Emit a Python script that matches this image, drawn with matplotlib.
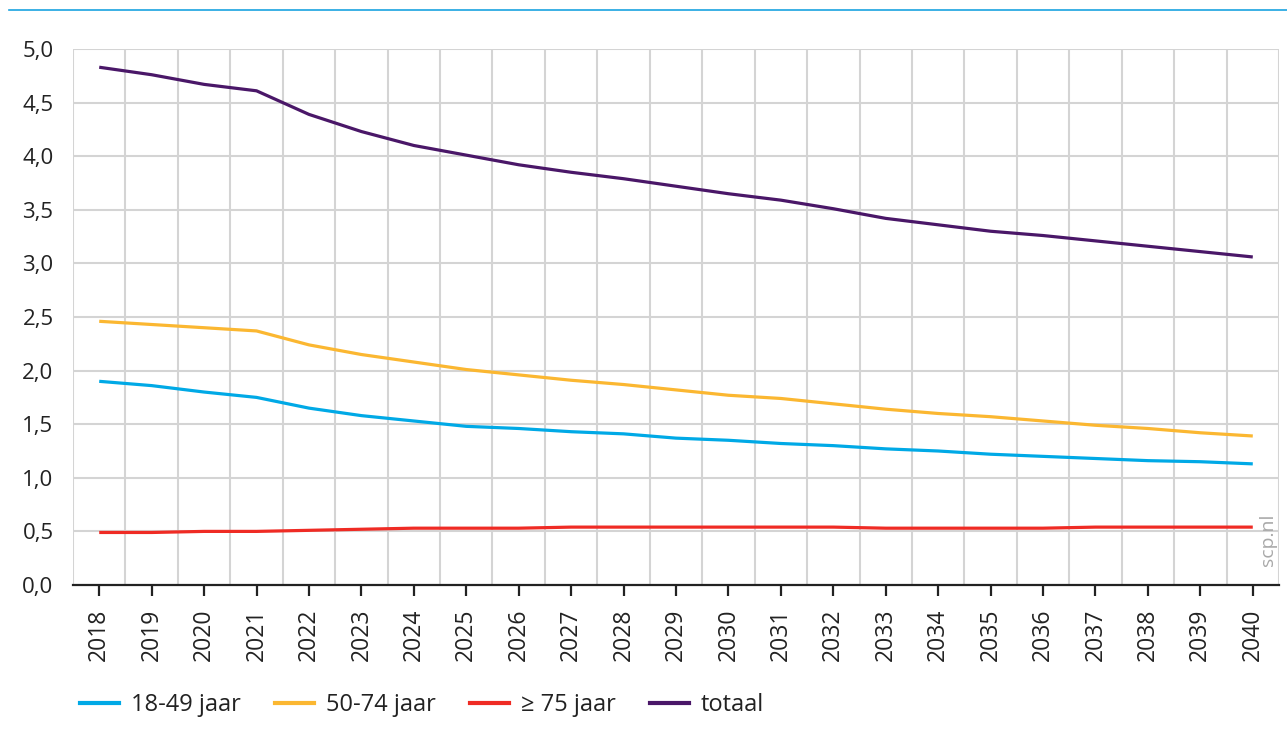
"""
Recreation of an SCP line chart: projections 2018-2040 per age group.
"""

import matplotlib
matplotlib.use("Agg")
import matplotlib.pyplot as plt
from matplotlib.lines import Line2D
from matplotlib.ticker import FuncFormatter
import numpy as np

plt.rcParams.update({"font.family": ["Open Sans", "DejaVu Sans"],
                     "font.size": 15})

years = list(range(2018, 2041))
age_18_49 = [1.90, 1.86, 1.80, 1.75, 1.65, 1.58, 1.53, 1.48, 1.46, 1.43, 1.41, 1.37,
             1.35, 1.32, 1.30, 1.27, 1.25, 1.22, 1.20, 1.18, 1.16, 1.15, 1.13]
age_50_74 = [2.46, 2.43, 2.40, 2.37, 2.24, 2.15, 2.08, 2.01, 1.96, 1.91, 1.87, 1.82,
             1.77, 1.74, 1.69, 1.64, 1.60, 1.57, 1.53, 1.49, 1.46, 1.42, 1.39]
age_75plus = [0.49, 0.49, 0.50, 0.50, 0.51, 0.52, 0.53, 0.53, 0.53, 0.54, 0.54, 0.54,
              0.54, 0.54, 0.54, 0.53, 0.53, 0.53, 0.53, 0.54, 0.54, 0.54, 0.54]
totaal = [4.83, 4.76, 4.67, 4.61, 4.39, 4.23, 4.10, 4.01, 3.92, 3.85, 3.79, 3.72,
          3.65, 3.59, 3.51, 3.42, 3.36, 3.30, 3.26, 3.21, 3.16, 3.11, 3.06]

series = [("18-49 jaar", age_18_49, "#00a9e6"),
          ("50-74 jaar", age_50_74, "#fbb731"),
          ("\u2265 75 jaar", age_75plus, "#ef2b24"),
          ("totaal", totaal, "#4a1768")]

W, H = 1287, 742
fig = plt.figure(figsize=(W / 100, H / 100), dpi=100)
ax = fig.add_axes([73 / W, (H - 585) / H, 1206 / W, 536 / H])

x = np.arange(len(years))
for label, vals, col in series:
    ax.plot(x, vals, color=col, lw=2.3, solid_capstyle="butt")

ax.set_xlim(-0.5, len(years) - 0.5)
ax.set_ylim(0, 5)
ax.set_yticks(np.arange(0, 5.01, 0.5))
ax.yaxis.set_major_formatter(FuncFormatter(lambda v, p: f"{v:.1f}".replace(".", ",")))
ax.set_xticks(x, [str(y) for y in years], rotation=90)

# grid: horizontal at y ticks, vertical between categories
for yv in np.arange(0.5, 5.01, 0.5):
    ax.axhline(yv, color="#d4d4d4", lw=1.5, zorder=0)
for xv in np.arange(-0.5, len(years), 1.0):
    ax.axvline(xv, color="#d4d4d4", lw=1.5, zorder=0)

for side in ("top", "right", "left"):
    ax.spines[side].set_visible(False)
ax.spines["bottom"].set_color("#222222")
ax.spines["bottom"].set_linewidth(1.6)
ax.tick_params(axis="x", length=8, width=1.6, color="#222222", pad=9,
               labelcolor="#222222", labelsize=16.5)
ax.tick_params(axis="y", length=0, pad=14, labelcolor="#222222", labelsize=16)

ax.text(0.9905, 0.085, "scp.nl", transform=ax.transAxes, rotation=90,
        ha="center", va="center", color="#a8a8a8", fontsize=14)

# top rule
fig.add_artist(Line2D([9 / W, 1.0], [1 - 10 / H, 1 - 10 / H],
                      color="#1aa3e0", lw=1.2))

handles = [Line2D([], [], color=c, lw=3) for _, _, c in series]
fig.legend(handles, [s[0] for s in series], loc="center left",
           bbox_to_anchor=(59 / W, 1 - 705 / H), ncol=4, frameon=False,
           handlelength=1.65, handletextpad=0.5, columnspacing=1.45,
           fontsize=17, labelcolor="#222222")

fig.savefig("out.png", dpi=100)
